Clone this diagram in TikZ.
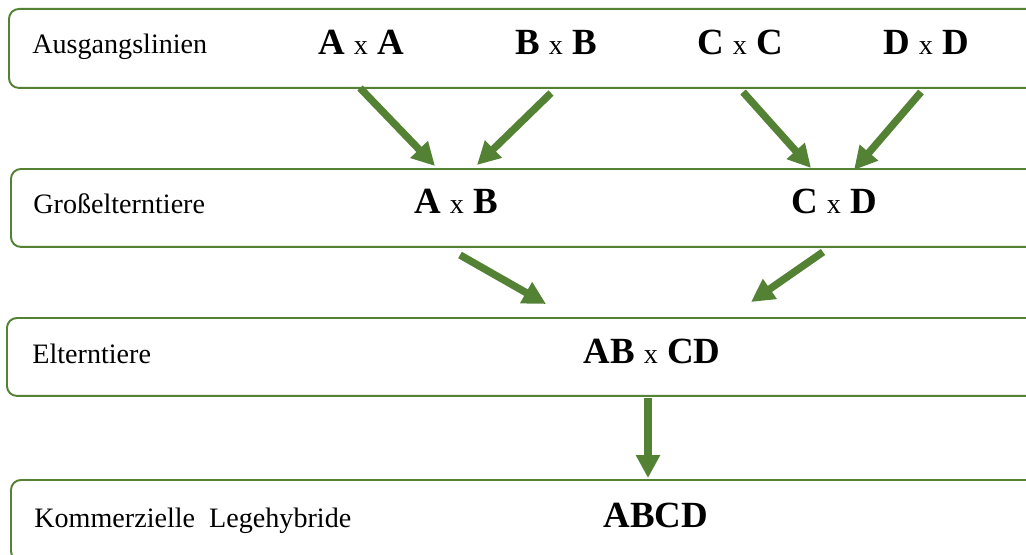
\documentclass[tikz,border=0pt]{standalone}
\usepackage{fontspec}
\setmainfont{Liberation Serif}
\usetikzlibrary{arrows.meta, positioning}
\definecolor{leafgreen}{HTML}{548235}
\newcommand{\crs}{{\mdseries\fontsize{16}{19}\selectfont x}}
\tikzset{
    stagebox/.style={rectangle, draw=leafgreen, line width=1.1pt, rounded corners=0.2cm, minimum width=21cm, anchor=north west, inner sep=0pt},
    stagelabel/.style={anchor=base west, inner sep=0pt, font=\fontsize{16}{19}\selectfont},
    cross/.style={anchor=base, inner sep=0pt, font=\fontsize{21}{25}\selectfont\bfseries},
    flow/.style={-{Triangle[length=4.6mm, width=4.6mm]}, line width=4.2pt, draw=leafgreen}
}

\begin{document}
\begin{tikzpicture}[x=0.02cm, y=-0.02cm]
    \useasboundingbox (0,0) rectangle (1026,554);
    \clip (0,0) rectangle (1026,554);
    % stages
    \node[stagebox, minimum height=1.58cm] (lines) at (8,8) {};
    \node[stagebox, minimum height=1.56cm] (grand) at (10,168) {};
    \node[stagebox, minimum height=1.56cm] (parents) at (6,317) {};
    \node[stagebox, minimum height=1.62cm] (hybrid) at (10,479) {};
    \node[stagelabel] (lineslbl) at (32,53) {Ausgangslinien};
    \node[stagelabel] (grandlbl) at (33,213) {Großelterntiere};
    \node[stagelabel] (parentslbl) at (32,363) {Elterntiere};
    \node[stagelabel] (hybridlbl) at (34,527) {Kommerzielle\ \ Legehybride};
    % crosses
    \node[cross] (aa) at (361,54) {A \crs{} A};
    \node[cross] (bb) at (556,54) {B \crs{} B};
    \node[cross] (cc) at (740,54) {C \crs{} C};
    \node[cross] (dd) at (926,54) {D \crs{} D};
    \node[cross] (ab) at (456,213) {A \crs{} B};
    \node[cross] (cd) at (834,213) {C \crs{} D};
    \node[cross] (abcd) at (652,363) {AB \crs{} CD};
    \node[cross] (final) at (656,527) {ABCD};
    % arrow ends
    \coordinate (aaout) at (360,88);
    \coordinate (bbout) at (551,93);
    \coordinate (ccout) at (743,92);
    \coordinate (ddout) at (921,92);
    \coordinate (abinl) at (435,166);
    \coordinate (abinr) at (477,165);
    \coordinate (cdinl) at (811,168);
    \coordinate (cdinr) at (854,170);
    \coordinate (about) at (460,255);
    \coordinate (cdout) at (823,252);
    \coordinate (abcdinl) at (546,304);
    \coordinate (abcdinr) at (751,302);
    \coordinate (abcdout) at (648,398);
    \coordinate (finalin) at (648,478);
    \draw[flow] (aaout) -- (abinl);
    \draw[flow] (bbout) -- (abinr);
    \draw[flow] (ccout) -- (cdinl);
    \draw[flow] (ddout) -- (cdinr);
    \draw[flow] (about) -- (abcdinl);
    \draw[flow] (cdout) -- (abcdinr);
    \draw[flow] (abcdout) -- (finalin);
\end{tikzpicture}
\end{document}
